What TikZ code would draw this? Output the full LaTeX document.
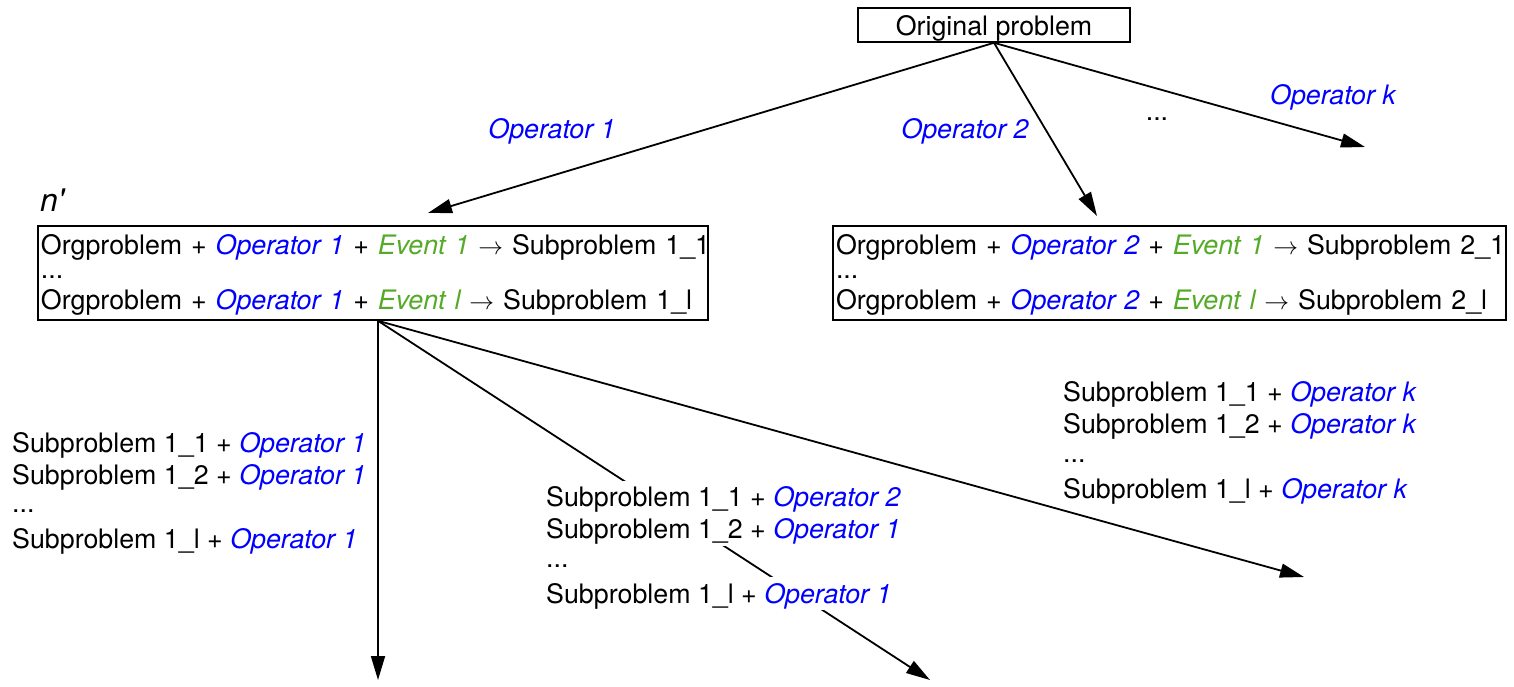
\documentclass[tikz,border=0pt]{standalone}
\usepackage{fontspec}
\setmainfont{TeX Gyre Heros}
\usetikzlibrary{arrows.meta}
\definecolor{opblue}{RGB}{0,0,255}
\definecolor{evgreen}{RGB}{85,170,40}
\newcommand{\op}[1]{{\color{opblue}\itshape #1}}
\newcommand{\ev}[1]{{\color{evgreen}\itshape #1}}
\setlength{\fboxsep}{0pt}
\newcommand{\wl}[1]{\smash{\colorbox{white}{\rule[-7bp]{0pt}{33bp}#1}}}
\begin{document}
\begin{tikzpicture}[x=1bp,y=-1bp,
  font=\fontsize{26.8bp}{32bp}\selectfont,
  conn/.style={line width=1.8bp},
  arr/.style={conn,-{Triangle[length=24bp,width=14bp]}},
  pbox/.style={draw,line width=1.6bp,inner xsep=3bp,inner ysep=0pt,align=left,
    font=\fontsize{26.8bp}{26.8bp}\selectfont},
  oplabel/.style={font=\fontsize{26.8bp}{32bp}\selectfont\itshape,text=opblue},
  block/.style={anchor=base west,inner sep=0pt}
]
\useasboundingbox (0,0) rectangle (1514,687);

\node[draw,line width=1.6bp,minimum width=272bp,minimum height=34bp,inner sep=0pt,
  text height=22bp,text depth=0pt] (orig) at (994,25) {Original problem};

\node[pbox,minimum width=670bp,minimum height=94bp,text width=664bp] (b1) at (373,273)
 {\begin{tabular}[t]{@{}l@{}}\rule{0pt}{25.5bp}Orgproblem + \op{Operator 1} + \ev{Event 1} $\rightarrow$ Subproblem 1\_1\\[-3bp]
 ...\\[3bp]
 Orgproblem + \op{Operator 1} + \ev{Event l} $\rightarrow$ Subproblem 1\_l\end{tabular}};

\node[pbox,minimum width=673bp,minimum height=94bp,text width=667bp] (b2) at (1169.5,273)
 {\begin{tabular}[t]{@{}l@{}}\rule{0pt}{25.5bp}Orgproblem + \op{Operator 2} + \ev{Event 1} $\rightarrow$ Subproblem 2\_1\\[-3bp]
 ...\\[3bp]
 Orgproblem + \op{Operator 2} + \ev{Event l} $\rightarrow$ Subproblem 2\_l\end{tabular}};

\node[block,font=\fontsize{32bp}{36bp}\selectfont\itshape] (np) at (40,211) {n\textquotesingle};

\coordinate (e1) at (428,213);
\coordinate (e2) at (1097,216);
\coordinate (e3) at (1365,147);
\draw[arr] (orig.south) -- (e1);
\draw[arr] (orig.south) -- (e2);
\draw[arr] (orig.south) -- (e3);

\node[oplabel] (l1) at (552,131) {Operator 1};
\node[oplabel] (l2) at (965,131) {Operator 2};
\node (ld) at (1157,119) {...};
\node[oplabel] (lk) at (1333,97) {Operator k};

\coordinate (s) at ([xshift=5bp]b1.south);
\coordinate (e4) at (378,680);
\coordinate (e5) at (930,680);
\coordinate (e6) at (1304,577);
\draw[arr] (s) -- (e4);
\draw[arr] (s) -- (e5);
\draw[arr] (s) -- (e6);

\node[block] (t1) at (12,452)
 {\begin{tabular}[t]{@{}l@{}}Subproblem 1\_1 + \op{Operator 1}\\
 Subproblem 1\_2 + \op{Operator 1}\\[-4bp]
 ...\\[4bp]
 Subproblem 1\_l + \op{Operator 1}\end{tabular}};

\node[block,font=\fontsize{26.8bp}{32.3bp}\selectfont] (t2) at (546,506.5)
 {\begin{tabular}[t]{@{}l@{}}\wl{Subproblem 1\_1 + \op{Operator 2}}\\
 \wl{Subproblem 1\_2 + \op{Operator 1}}\\[-4bp]
 \wl{...}\\[4bp]
 \wl{Subproblem 1\_l + \op{Operator 1}}\end{tabular}};

\node[block,font=\fontsize{26.8bp}{32.3bp}\selectfont] (t3) at (1063,401.5)
 {\begin{tabular}[t]{@{}l@{}}Subproblem 1\_1 + \op{Operator k}\\
 Subproblem 1\_2 + \op{Operator k}\\[-4bp]
 ...\\[4bp]
 Subproblem 1\_l + \op{Operator k}\end{tabular}};
\end{tikzpicture}
\end{document}
